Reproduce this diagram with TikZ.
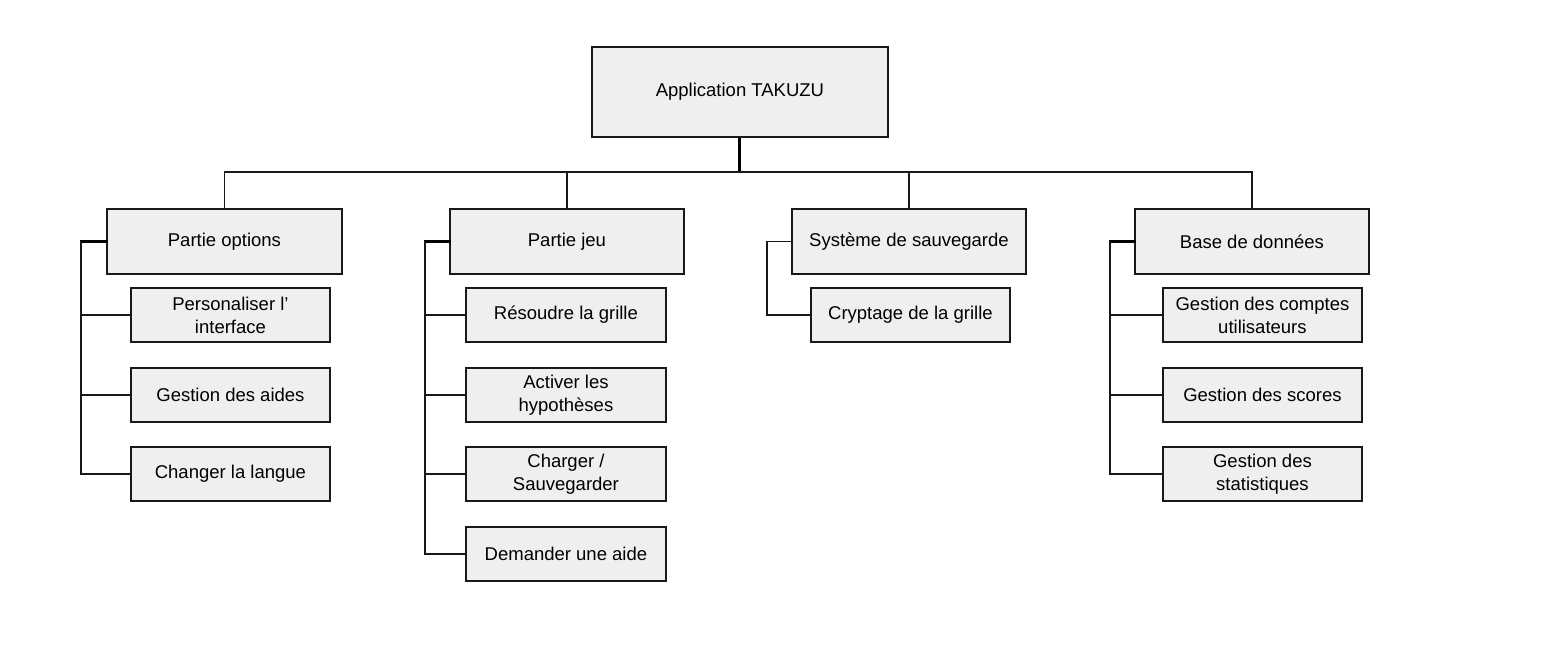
\documentclass[tikz,border=0pt]{standalone}
\usepackage{fontspec}
\setmainfont{Liberation Sans}
\begin{document}
\begin{tikzpicture}[x=1pt,y=-1pt,
  box/.style={draw=black!90,fill=boxfill,line width=1.9pt,align=center,inner sep=0pt,
    font=\fontsize{18.5}{23}\selectfont,anchor=north west},
  link/.style={line width=1.9pt,black!90},
  stem/.style={line width=3pt,black}]
\definecolor{boxfill}{HTML}{EFEFEF}
\useasboundingbox (0,0) rectangle (1543,657);
% root
\node[box,minimum width=296pt,minimum height=90pt] (root) at (591,46) {Application TAKUZU};
% level 1
\node[box,minimum width=235pt,minimum height=65pt] (opt) at (106,208) {Partie options};
\node[box,minimum width=234pt,minimum height=65pt] (jeu) at (449,208) {Partie jeu};
\node[box,minimum width=234pt,minimum height=65pt] (sav) at (791,208) {Système de sauvegarde};
\node[box,minimum width=234pt,minimum height=65pt] (bdd) at (1134,208) {Base de données};
% children of opt
\node[box,minimum width=199pt,minimum height=54pt] (o1) at (130,287) {Personaliser l’\\interface};
\node[box,minimum width=199pt,minimum height=54pt] (o2) at (130,367) {Gestion des aides};
\node[box,minimum width=199pt,minimum height=54pt] (o3) at (130,446) {Changer la langue};
% children of jeu
\node[box,minimum width=200pt,minimum height=54pt] (j1) at (465,287) {Résoudre la grille};
\node[box,minimum width=200pt,minimum height=54pt] (j2) at (465,367) {Activer les\\hypothèses};
\node[box,minimum width=200pt,minimum height=54pt] (j3) at (465,446) {Charger /\\Sauvegarder};
\node[box,minimum width=200pt,minimum height=54pt] (j4) at (465,526) {Demander une aide};
% child of sav
\node[box,minimum width=199pt,minimum height=54pt] (s1) at (810,287) {Cryptage de la grille};
% children of bdd
\node[box,minimum width=199pt,minimum height=54pt] (b1) at (1162,287) {Gestion des comptes\\utilisateurs};
\node[box,minimum width=199pt,minimum height=54pt] (b2) at (1162,367) {Gestion des scores};
\node[box,minimum width=199pt,minimum height=54pt] (b3) at (1162,446) {Gestion des\\statistiques};
% bus
\coordinate (bus) at (root.south |- 0,172);
\draw[stem] (root.south) -- (bus);
\draw[link] (opt.north) |- (bus) -| (bdd.north);
\draw[link] (jeu.north) -- (jeu.north |- bus);
\draw[link] (sav.north) -- (sav.north |- bus);
% spines
\coordinate (so) at ([xshift=-25pt]opt.west);
\coordinate (sj) at ([xshift=-24pt]jeu.west);
\coordinate (ss) at ([xshift=-24pt]sav.west);
\coordinate (sb) at ([xshift=-24pt]bdd.west);
\draw[stem,line cap=rect] (opt.west) -- (so);
\draw[stem,line cap=rect] (jeu.west) -- (sj);
\draw[link] (sav.west) -- (ss);
\draw[stem,line cap=rect] (bdd.west) -- (sb);
\foreach \c in {o1,o2,o3} \draw[link] (so) |- (\c.west);
\foreach \c in {j1,j2,j3,j4} \draw[link] (sj) |- (\c.west);
\draw[link] (ss) |- (s1.west);
\foreach \c in {b1,b2,b3} \draw[link] (sb) |- (\c.west);
\end{tikzpicture}
\end{document}
